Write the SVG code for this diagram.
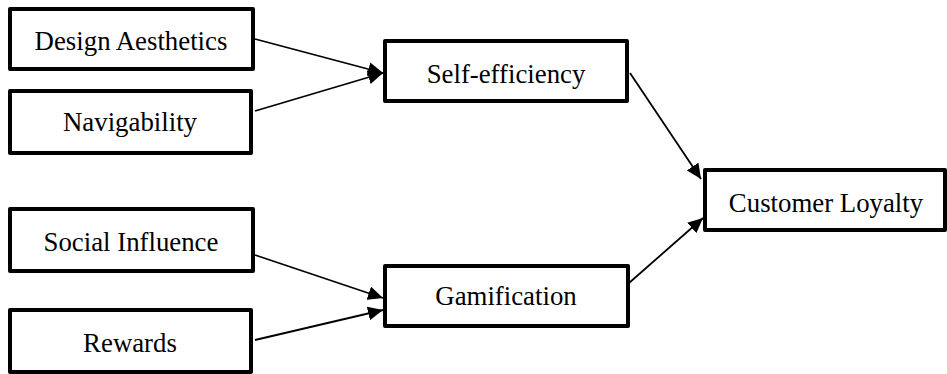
<svg xmlns="http://www.w3.org/2000/svg" width="947" height="374" viewBox="0 0 947 374">
<defs>
<style>
.box{fill:#fff;stroke:#000;stroke-width:4;stroke-linejoin:round}
.c{stroke:#000;stroke-width:1.8;fill:none}
.t{font-family:'Liberation Serif','Times New Roman',serif;font-size:26.8px;fill:#000;text-anchor:middle}
</style>
<marker id="ah" markerUnits="userSpaceOnUse" markerWidth="16" markerHeight="14" refX="15" refY="7" orient="auto">
<path d="M0,0 L15,7 L0,14 Z" fill="#000"/>
</marker>
</defs>
<rect width="947" height="374" fill="#fff"/>
<g id="connectors">
<line class="c" x1="255" y1="39" x2="383" y2="73" marker-end="url(#ah)"/>
<line class="c" x1="255" y1="111" x2="383" y2="73" marker-end="url(#ah)"/>
<line class="c" x1="255" y1="255" x2="383" y2="298" marker-end="url(#ah)"/>
<line class="c" x1="255" y1="340" x2="383" y2="310" marker-end="url(#ah)"/>
<line class="c" x1="630" y1="73" x2="701" y2="179" marker-end="url(#ah)"/>
<line class="c" x1="629" y1="283" x2="703" y2="218" marker-end="url(#ah)"/>
</g>
<g id="design-aesthetics"><rect class="box" x="10" y="9" width="243" height="60"/><text class="t" x="131" y="50">Design Aesthetics</text></g>
<g id="navigability"><rect class="box" x="10" y="91" width="241" height="62"/><text class="t" x="130" y="131">Navigability</text></g>
<g id="self-efficiency"><rect class="box" x="385" y="41" width="242" height="60"/><text class="t" x="506" y="83">Self-efficiency</text></g>
<g id="customer-loyalty"><rect class="box" x="705" y="170" width="240" height="60"/><text class="t" x="826" y="212">Customer Loyalty</text></g>
<g id="social-influence"><rect class="box" x="10" y="209" width="243" height="62"/><text class="t" x="131" y="251">Social Influence</text></g>
<g id="rewards"><rect class="box" x="10" y="310" width="241" height="62"/><text class="t" x="130" y="352">Rewards</text></g>
<g id="gamification"><rect class="box" x="385" y="266" width="243" height="60"/><text class="t" x="506" y="305">Gamification</text></g>
</svg>
